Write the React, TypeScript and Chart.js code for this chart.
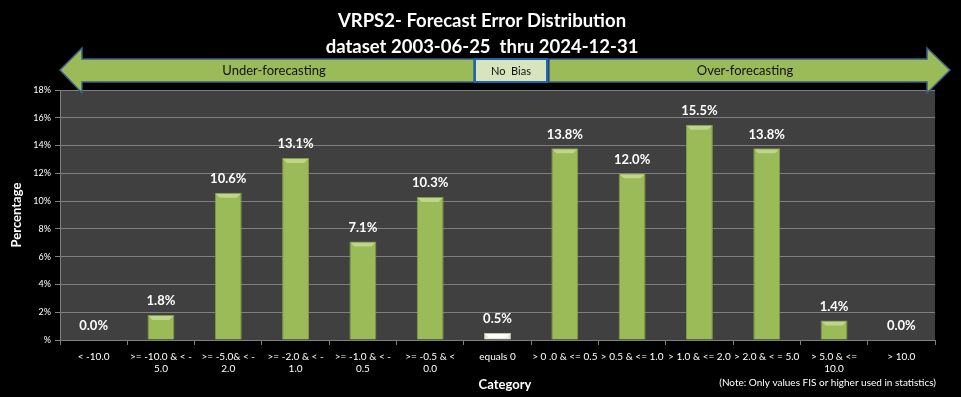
import React, { useEffect, useRef } from "react";
import { Chart, registerables } from "chart.js";

Chart.register(...registerables);

const categories: (string | string[])[] = [
  "< -10.0",
  [">= -10.0 & < -", "5.0"],
  [">= -5.0& < -", "2.0"],
  [">= -2.0 & < -", "1.0"],
  [">= -1.0 & < -", "0.5"],
  [">= -0.5 & <", "0.0"],
  "equals 0",
  "> 0 .0 & <= 0.5",
  "> 0.5 & <= 1.0",
  "> 1.0 & <= 2.0",
  "> 2.0 & < = 5.0",
  ["> 5.0 & <=", "10.0"],
  "> 10.0",
];
const percentages: number[] = [0.0, 1.8, 10.6, 13.1, 7.1, 10.3, 0.5, 13.8, 12.0, 15.5, 13.8, 1.4, 0.0];
const yTickValues: number[] = [0, 2, 4, 6, 8, 10, 12, 14, 16, 18];
const titleLines: string[] = ["VRPS2- Forecast Error Distribution", "dataset 2003-06-25  thru 2024-12-31"];
const noteText = "(Note: Only values FIS or higher used in statistics)";

const FONT = "Lato, 'Open Sans', sans-serif";

const decorPlugin = {
  id: "decor",
  beforeDraw(chart: any) {
    const { ctx, chartArea } = chart;
    ctx.save();
    ctx.fillStyle = "#000";
    ctx.fillRect(0, 0, chart.width, chart.height);
    ctx.fillStyle = "#404040";
    ctx.fillRect(chartArea.left, chartArea.top, chartArea.right - chartArea.left, chartArea.bottom - chartArea.top);
    ctx.restore();
  },
  afterDatasetsDraw(chart: any) {
    // subtle top bevel highlight on bars
    const { ctx } = chart;
    const meta = chart.getDatasetMeta(0);
    ctx.save();
    meta.data.forEach((bar: any, i: number) => {
      if (percentages[i] <= 0) return;
      const w = bar.width;
      const left = bar.x - w / 2;
      const h = Math.min(4, bar.base - bar.y);
      ctx.fillStyle = i === 6 ? "rgba(255,255,255,0.9)" : "rgba(220,235,180,0.55)";
      ctx.beginPath();
      ctx.moveTo(left + 1, bar.y + 1);
      ctx.lineTo(left + w - 1, bar.y + 1);
      ctx.lineTo(left + w - 1 - h, bar.y + 1 + h);
      ctx.lineTo(left + 1 + h, bar.y + 1 + h);
      ctx.closePath();
      ctx.fill();
    });
    ctx.restore();
  },
  afterDraw(chart: any) {
    const { ctx, chartArea } = chart;
    ctx.save();
    // titles
    ctx.fillStyle = "#fff";
    ctx.textAlign = "center";
    ctx.textBaseline = "middle";
    ctx.font = `bold 18.5px ${FONT}`;
    ctx.fillText(titleLines[0], 482, 21);
    ctx.fillText(titleLines[1], 482, 47);

    // arrows
    ctx.lineWidth = 1.5;
    ctx.strokeStyle = "#3A5F8A";
    ctx.fillStyle = "#9BBB59";
    ctx.beginPath();
    ctx.moveTo(60, 70);
    ctx.lineTo(82, 48);
    ctx.lineTo(82, 59);
    ctx.lineTo(474, 59);
    ctx.lineTo(474, 82);
    ctx.lineTo(82, 82);
    ctx.lineTo(82, 93);
    ctx.closePath();
    ctx.fill();
    ctx.stroke();

    ctx.beginPath();
    ctx.moveTo(950, 70);
    ctx.lineTo(927, 48);
    ctx.lineTo(927, 59);
    ctx.lineTo(549, 59);
    ctx.lineTo(549, 82);
    ctx.lineTo(927, 82);
    ctx.lineTo(927, 93);
    ctx.closePath();
    ctx.fill();
    ctx.stroke();

    ctx.fillStyle = "#D7E4BD";
    ctx.fillRect(475, 59, 72, 23);
    ctx.lineWidth = 2;
    ctx.strokeStyle = "#2167B0";
    ctx.strokeRect(475, 59, 72, 23);

    ctx.fillStyle = "#111";
    ctx.font = `13px ${FONT}`;
    ctx.fillText("Under-forecasting", 274, 71);
    ctx.fillText("Over-forecasting", 745, 71);
    ctx.font = `11px ${FONT}`;
    ctx.fillText("No  Bias", 511, 71);

    // data labels
    const meta = chart.getDatasetMeta(0);
    ctx.fillStyle = "#fff";
    ctx.font = `bold 13px ${FONT}`;
    meta.data.forEach((bar: any, i: number) => {
      ctx.fillText(percentages[i].toFixed(1) + "%", bar.x, bar.y - 14);
    });

    // axis titles and note
    ctx.font = `bold 13px ${FONT}`;
    ctx.fillText("Category", 505, 385);
    ctx.save();
    ctx.translate(17, (chartArea.top + chartArea.bottom) / 2);
    ctx.rotate(-Math.PI / 2);
    ctx.fillText("Percentage", 0, 0);
    ctx.restore();
    ctx.font = `10px ${FONT}`;
    ctx.textAlign = "right";
    ctx.fillText(noteText, 936, 383);
    ctx.restore();
  },
};

export default function App() {
  const ref = useRef<HTMLCanvasElement | null>(null);
  useEffect(() => {
    document.body.style.margin = "0";
    document.body.style.background = "#000";
    const canvas = ref.current!;
    const ctx = canvas.getContext("2d")!;
    const colors = percentages.map((_, i) => (i === 6 ? "#E6EED8" : "#9BBB59"));
    const borders = percentages.map((_, i) => (i === 6 ? "#B8C9A0" : "#7E9C44"));
    const chart = new Chart(ctx, {
      type: "bar",
      data: {
        labels: categories,
        datasets: [
          {
            data: percentages,
            backgroundColor: colors,
            borderColor: borders,
            borderWidth: 1,
            barPercentage: 0.4,
            categoryPercentage: 1,
          },
        ],
      },
      plugins: [decorPlugin],
      options: {
        responsive: false,
        animation: false,
        layout: { padding: { top: 90, right: 26, left: 0, bottom: 0 } },
        plugins: { legend: { display: false }, tooltip: { enabled: false }, title: { display: false } },
        scales: {
          x: {
            afterFit: (s: any) => {
              s.height = 57;
            },
            grid: { display: true, drawOnChartArea: false, color: "#808080", tickLength: 5, offset: true },
            border: { color: "#808080" },
            ticks: { color: "#fff", font: { family: FONT, size: 10 }, maxRotation: 0, autoSkip: false, padding: 6 },
          },
          y: {
            min: 0,
            max: 18,
            afterFit: (s: any) => {
              s.width = 60;
            },
            afterBuildTicks: (s: any) => {
              s.ticks = yTickValues.map((v) => ({ value: v }));
            },
            grid: { color: "#7F7F7F", tickLength: 5 },
            border: { color: "#808080" },
            ticks: {
              color: "#fff",
              font: { family: FONT, size: 9 },
              padding: 4,
              callback: (v: any) => (v === 0 ? "%" : v + "%"),
            },
          },
        },
      },
    });
    return () => chart.destroy();
  }, []);
  return (
    <div style={{ width: 961, height: 397, background: "#000" }}>
      <canvas ref={ref} width={961} height={397} style={{ display: "block" }} />
    </div>
  );
}
